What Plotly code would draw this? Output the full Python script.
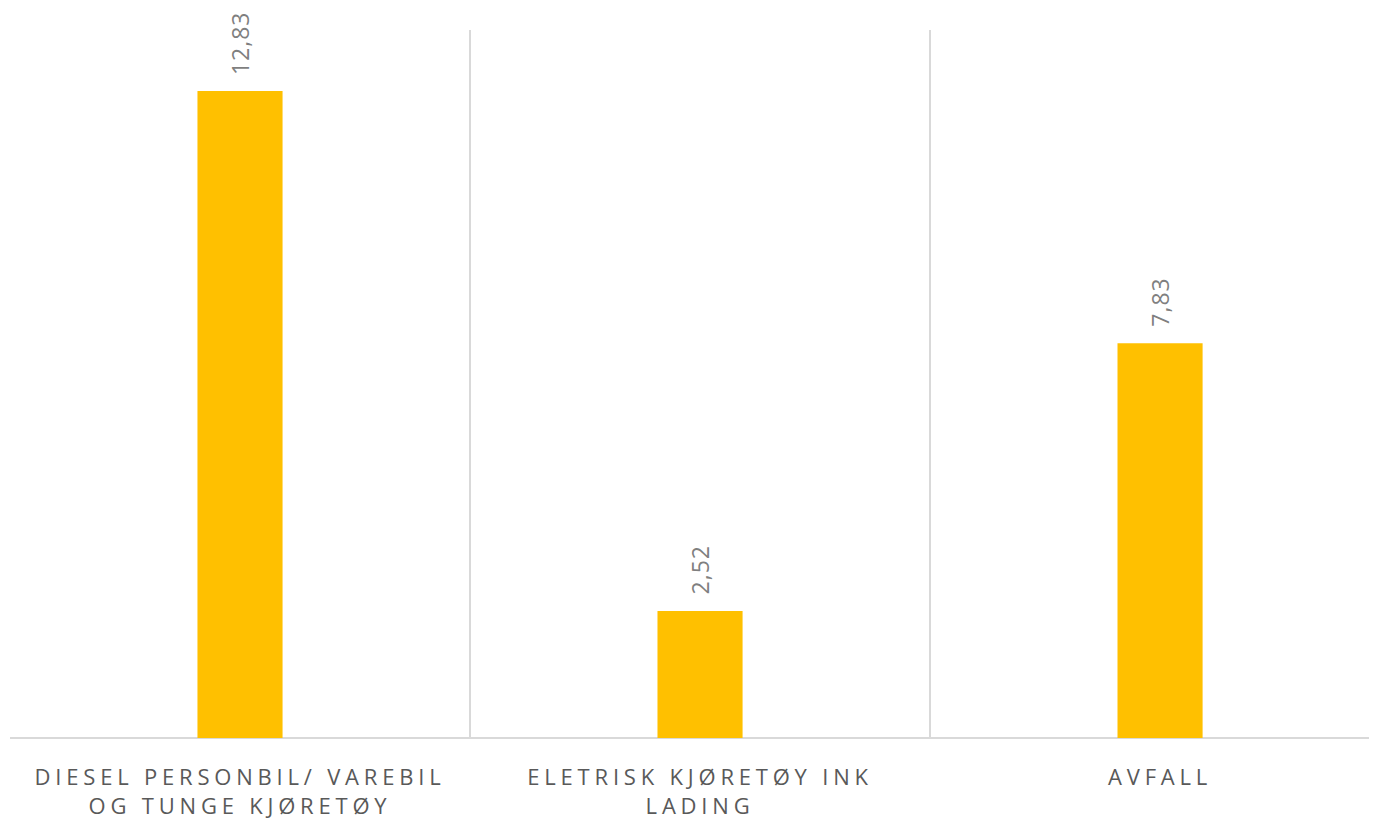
import plotly.graph_objects as go

categories = ["DIESEL PERSONBIL/ VAREBIL<br>OG TUNGE KJØRETØY",
              "ELETRISK KJØRETØY INK<br>LADING",
              "AVFALL"]
values = [12.83, 2.52, 7.83]
value_labels = ["12,83", "2,52", "7,83"]

xpos = list(range(len(categories)))

fig = go.Figure()
fig.add_trace(go.Bar(
    x=xpos, y=values,
    marker=dict(color="#FFC000", line=dict(width=0)),
    width=0.185,
    hoverinfo="skip",
))
# invisible trace on overlay axis for category separators
fig.add_trace(go.Scatter(x=[-0.5, 1.5], y=[0, 0], xaxis="x2", mode="markers",
                         marker=dict(opacity=0), hoverinfo="skip", showlegend=False))

for xi, v, t in zip(xpos, values, value_labels):
    fig.add_annotation(x=xi, y=v, text=t, textangle=-90, showarrow=False,
                       yanchor="bottom", xanchor="center", yshift=16,
                       font=dict(family="Open Sans", size=23, color="#7F7F7F"))

fig.update_layout(
    width=1377, height=817,
    margin=dict(l=2, r=0, t=22, b=87),
    paper_bgcolor="white", plot_bgcolor="white",
    showlegend=False,
    xaxis=dict(range=[-0.5, 2.489], tickmode="array", tickvals=xpos, ticktext=categories,
               showgrid=False, zeroline=False, showline=False, ticks="",
               tickfont=dict(family="Open Sans", size=22, color="#595959"),
               ticklabelstandoff=24),
    xaxis2=dict(overlaying="x", matches="x", tickmode="array", tickvals=[-0.5, 0.5, 1.5],
                showgrid=True, gridcolor="#D9D9D9", gridwidth=1.5, showticklabels=False,
                zeroline=False, ticks=""),
    yaxis=dict(range=[0, 14.04], showgrid=False, zeroline=True, zerolinecolor="#D9D9D9",
               zerolinewidth=2, showticklabels=False, ticks="", showline=False),
)

post = """
var s = document.createElement('style');
s.textContent = '.xtick text, .xtick tspan {letter-spacing: 4.8px;} .annotation-text {letter-spacing: 1px;}';
document.head.appendChild(s);
"""

fig.write_html("out.html", post_script=post)
